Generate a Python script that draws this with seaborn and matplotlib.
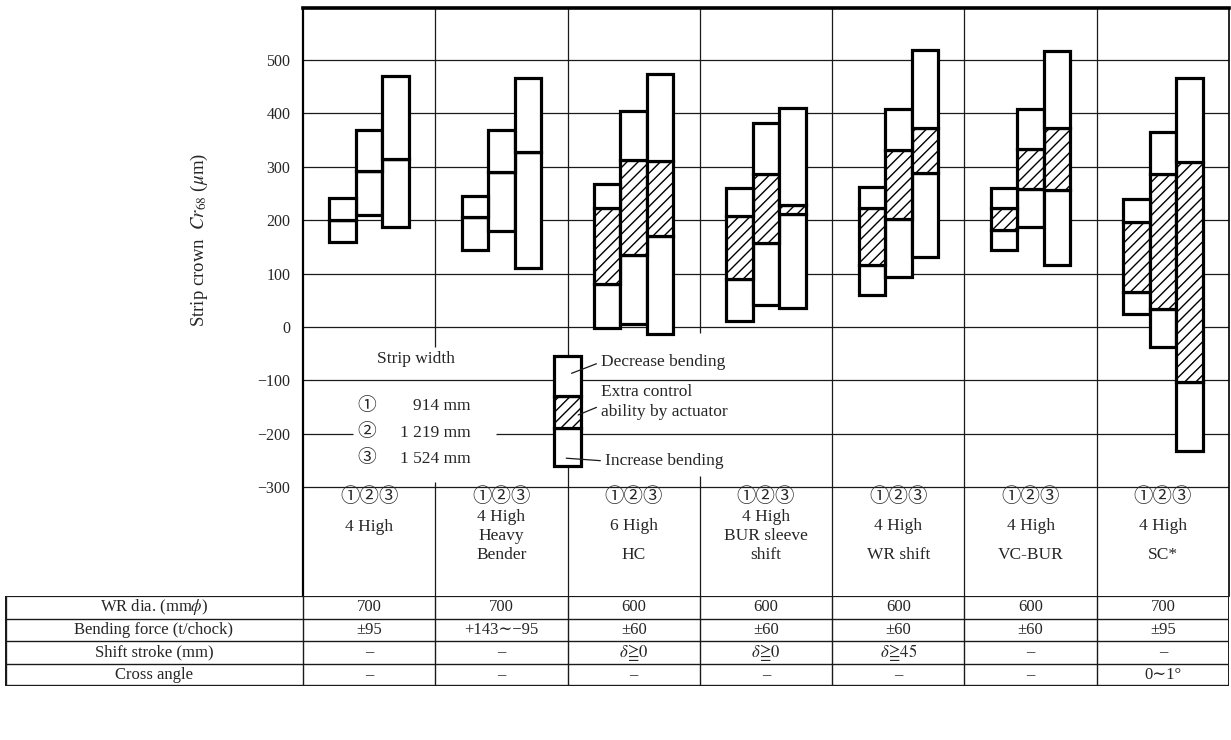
import numpy as np
import pandas as pd
import seaborn as sns
import matplotlib
matplotlib.use("Agg")
import matplotlib.pyplot as plt

# ---------------- data ----------------
categories = ["4 High", "4 High\nHeavy\nBender", "6 High\nHC", "4 High\nBUR sleeve\nshift",
              "4 High\nWR shift", "4 High\nVC-BUR", "4 High\nSC*"]
strip_marks = "①②③"
strip_width_marks = ["①", "②", "③"]
strip_width_values = ["914 mm", "1 219 mm", "1 524 mm"]

# per mill type, per strip width (①, ②, ③)  [µm]
increase_low = [[160, 210, 187], [144, 179, 110], [-2, 6, -14], [11, 41, 36],
                [59, 94, 131], [144, 187, 116], [25, -37, -233]]
extra_low = [[200, 293, 314], [206, 291, 328], [81, 134, 170], [89, 157, 212],
             [116, 203, 288], [181, 259, 256], [66, 33, -103]]
extra_high = [[200, 293, 314], [206, 291, 328], [222, 313, 310], [207, 287, 228],
              [222, 331, 373], [222, 334, 373], [197, 287, 309]]
decrease_high = [[242, 368, 470], [245, 369, 467], [268, 404, 474], [260, 382, 411],
                 [263, 409, 519], [260, 409, 517], [240, 366, 467]]

legend_levels = [-261, -190, -130, -54]
legend_labels = ["Increase bending", "Extra control\nability by actuator", "Decrease bending"]

yticks = [-300, -200, -100, 0, 100, 200, 300, 400, 500]
ylabel = r"Strip crown  $Cr_{68}$ ($\mu$m)"

row_labels = [r"WR dia. (mm$\phi$)", "Bending force (t/chock)", "Shift stroke (mm)", "Cross angle"]
wr_dia = ["700", "700", "600", "600", "600", "600", "700"]
bending_force = ["±95", "+143∼−95", "±60", "±60", "±60", "±60", "±95"]
shift_stroke = ["–", "–", r"$\delta\!\geqq\!0$", r"$\delta\!\geqq\!0$", r"$\delta\!\geqq\!45$", "–", "–"]
cross_angle = ["–", "–", "–", "–", "–", "–", "0∼1°"]
table_rows = [wr_dia, bending_force, shift_stroke, cross_angle]

# ---------------- style ----------------
sns.set_theme(style="white")
plt.rcParams["font.family"] = ["Liberation Serif", "DejaVu Serif", "Noto Sans CJK JP"]
plt.rcParams["mathtext.fontset"] = "stix"
plt.rcParams["hatch.linewidth"] = 1.0
plt.rcParams["hatch.color"] = "black"

W, H = 1231, 740
fig = plt.figure(figsize=(W / 100, H / 100), dpi=100)
fig.patch.set_facecolor("white")
ax = fig.add_axes([303 / W, 1 - 596 / H, 926 / W, 588 / H])
tax = fig.add_axes([5 / W, 1 - 686 / H, 1224 / W, 90 / H])

Y0PX, PXU = 326.9, 0.53375          # pixel row of 0 and px per unit


def px2v(p):
    return (Y0PX - p) / PXU


def xpx(p):
    return (p - 303) / (926 / 7) - 0.5


YTOP, YBOT = px2v(8), px2v(596)
ax.set_xlim(-0.5, 6.5)
ax.set_ylim(YBOT, YTOP)
ax.set_facecolor("white")

# ---------------- grid ----------------
for v in yticks:
    if v == -200:
        ax.hlines(v, -0.5, xpx(353), color="k", lw=0.9, zorder=1)
        ax.hlines(v, xpx(496), 6.5, color="k", lw=0.9, zorder=1)
    else:
        ax.axhline(v, color="k", lw=0.9, zorder=1)
gaps = {0.5: (-290, -38), 2.5: (-280, -12)}
for b in np.arange(0.5, 6, 1.0):
    if b in gaps:
        g0, g1 = gaps[b]
        ax.vlines(b, YBOT, g0, color="k", lw=0.9, zorder=1)
        ax.vlines(b, g1, YTOP, color="k", lw=0.9, zorder=1)
    else:
        ax.vlines(b, YBOT, YTOP, color="k", lw=0.9, zorder=1)

# ---------------- bars (floating, via seaborn) ----------------
bar_step = 0.2
recs = []
for i in range(len(categories)):
    for j in range(3):
        recs.append(dict(pos=round(i + (j - 1) * bar_step, 3),
                         inc_lo=increase_low[i][j], ex_lo=extra_low[i][j],
                         ex_hi=extra_high[i][j], dec_hi=decrease_high[i][j]))
df = pd.DataFrame(recs).sort_values("pos")
segments = [("inc_lo", "ex_lo", None), ("ex_lo", "ex_hi", "///"), ("ex_hi", "dec_hi", None)]
for lo, hi, hatch in segments:
    d = df.assign(h=df[hi] - df[lo])
    sns.barplot(data=d, x="pos", y="h", bottom=d[lo].to_numpy(), native_scale=True,
                width=1.0, color="white", saturation=1, errorbar=None,
                edgecolor="black", linewidth=2.3, hatch=hatch, zorder=3, ax=ax)

# legend sample bar
lx = 1.5
for k, hatch in enumerate([None, "///", None]):
    ax.bar(lx, legend_levels[k + 1] - legend_levels[k], bottom=legend_levels[k], width=bar_step,
           color="white", edgecolor="black", linewidth=2.3, hatch=hatch, zorder=3)

ax.set_xlim(-0.5, 6.5)
ax.set_ylim(YBOT, YTOP)
ax.set_xlabel("")
ax.set_xticks([])
ax.set_yticks(yticks)
ax.tick_params(axis="y", length=0, pad=9, labelsize=11.5)
ax.set_ylabel(ylabel, fontsize=13.5)
ax.yaxis.set_label_coords((210 - 303) / 926, (596 - 240) / 588)

for s in ["left", "right", "top", "bottom"]:
    ax.spines[s].set_color("black")
ax.spines["top"].set_linewidth(2.6)
ax.spines["left"].set_linewidth(1.6)
ax.spines["right"].set_linewidth(1.2)
ax.spines["bottom"].set_visible(False)

# legend texts
fs = 12.5
ax.annotate(legend_labels[2], xy=(1.53, -87), xytext=(xpx(601), px2v(362)), fontsize=fs,
            ha="left", va="center", zorder=5,
            arrowprops=dict(arrowstyle="-", lw=0.9, color="k", shrinkA=1, shrinkB=0, relpos=(0, 0.5)))
ax.annotate(legend_labels[1], xy=(1.58, -165), xytext=(xpx(601), px2v(402)), fontsize=fs,
            ha="left", va="center", linespacing=1.25, zorder=5,
            arrowprops=dict(arrowstyle="-", lw=0.9, color="k", shrinkA=1, shrinkB=0, relpos=(0, 0.4)))
ax.annotate(legend_labels[0], xy=(1.49, -246), xytext=(xpx(605), px2v(461)), fontsize=fs,
            ha="left", va="center", zorder=5,
            arrowprops=dict(arrowstyle="-", lw=0.9, color="k", shrinkA=1, shrinkB=0, relpos=(0, 0.5)))

ax.text(xpx(416), px2v(359), "Strip width", ha="center", va="center", fontsize=fs, zorder=5)
for k, ypx in enumerate([406, 433, 459]):
    ax.text(xpx(357), px2v(ypx), strip_width_marks[k], ha="left", va="center", fontsize=13.5, zorder=5)
    ax.text(xpx(471), px2v(ypx), strip_width_values[k], ha="right", va="center", fontsize=12.5, zorder=5)

# header texts
line_px = {1: [527], 2: [526, 555], 3: [517, 536, 555]}
for i, cat in enumerate(categories):
    ax.text(i, px2v(497), strip_marks, ha="center", va="center", fontsize=14, zorder=5)
    lines = cat.split("\n")
    for ln, ypx in zip(lines, line_px[len(lines)]):
        ax.text(i, px2v(ypx), ln, ha="center", va="center", fontsize=12.5, zorder=5)

# ---------------- table ----------------
XL = -0.5 - (303 - 5) / (926 / 7)
tax.set_xlim(XL, 6.5)
tax.set_ylim(4, 0)
tax.axis("off")
for r in range(1, 4):
    tax.hlines(r, XL, 6.5, color="k", lw=1.0)
for b in np.arange(-0.5, 6, 1.0):
    tax.vlines(b, 0, 4, color="k", lw=1.0)
tax.hlines(0, XL, 6.5, color="k", lw=1.6)
tax.hlines(4, XL, 6.5, color="k", lw=2.4)
tax.vlines(XL, 0, 4, color="k", lw=2.4)
tax.vlines(6.5, 0, 4, color="k", lw=1.4)
for r, lab in enumerate(row_labels):
    tax.text((XL - 0.5) / 2, r + 0.5, lab, ha="center", va="center", fontsize=12)
    for i, val in enumerate(table_rows[r]):
        tax.text(i, r + 0.5, val, ha="center", va="center", fontsize=12)

fig.savefig("out.png", dpi=100, facecolor="white")
